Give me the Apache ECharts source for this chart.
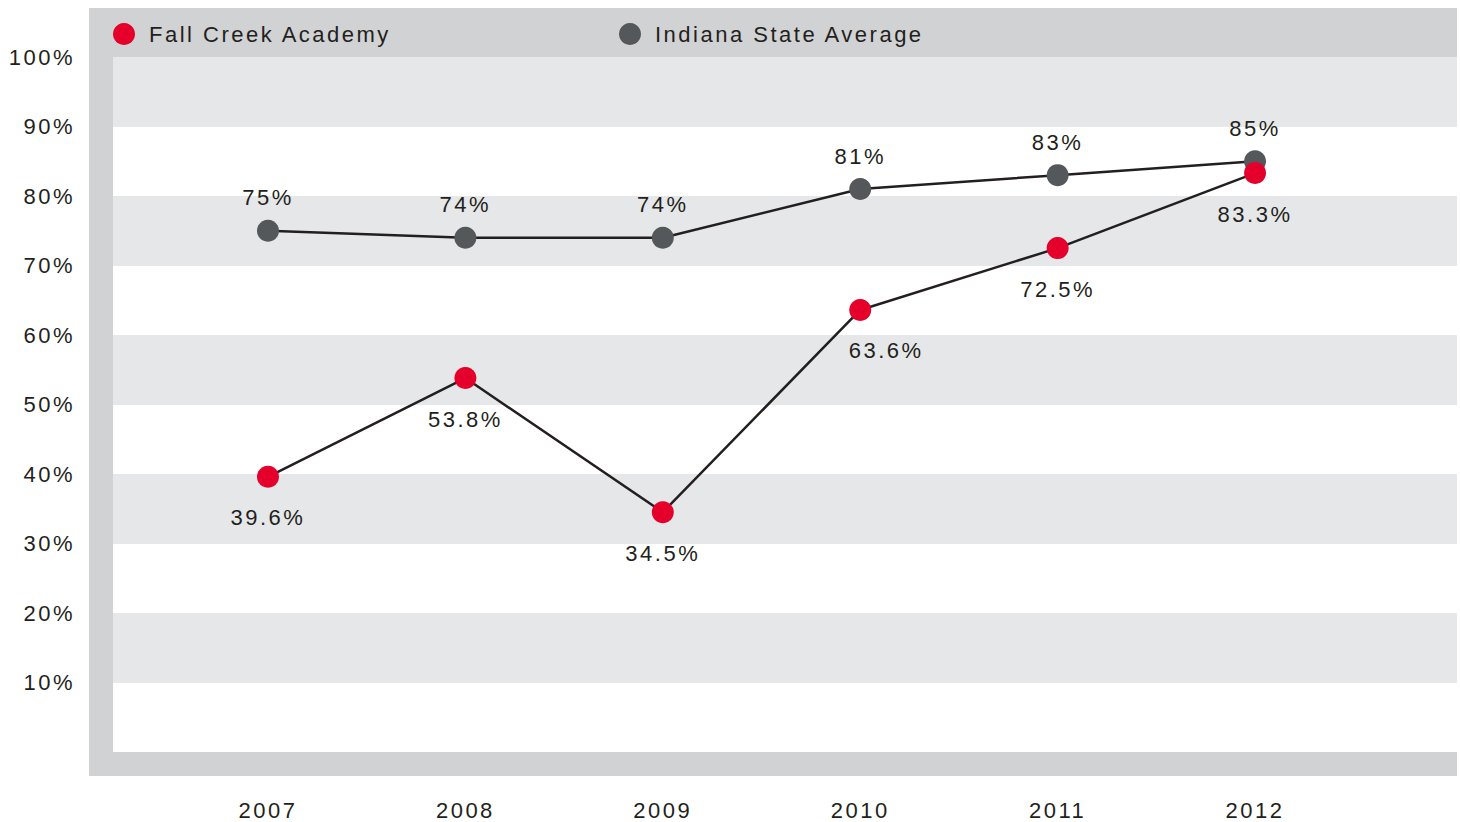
<!DOCTYPE html>
<html>
<head>
<meta charset="utf-8">
<script src="https://cdn.jsdelivr.net/npm/echarts@6/dist/echarts.min.js"></script>
<style>
  html, body { margin: 0; padding: 0; background: #fff; }
  #chart { width: 1460px; height: 822px; letter-spacing: 2.5px; }
</style>
</head>
<body>
<div id="chart"></div>
<script>
// data
const years = [2007, 2008, 2009, 2010, 2011, 2012]
const fallCreek = [39.6, 53.8, 34.5, 63.6, 72.5, 83.3]
const indiana = [75, 74, 74, 81, 83, 85]

const textColor = '#231f20'
const font = 'Liberation Sans, Arial, Helvetica, sans-serif'

let myChart = echarts.init(document.getElementById('chart'), null, { renderer: 'svg' })

let option = {
  animation: false,
  textStyle: { fontFamily: font, color: textColor },
  graphic: [{
    type: 'rect',
    z: -100,
    shape: { x: 89, y: 8, width: 1368, height: 768 },
    style: { fill: '#d1d2d4' }
  }],
  legend: [
    {
      data: ['Fall Creek Academy'],
      left: 113, top: 23, padding: 0,
      icon: 'circle', itemWidth: 22, itemHeight: 22, itemGap: 0,
      textStyle: { fontSize: 22, color: textColor, fontFamily: font, padding: [0, 0, 0, 9] }
    },
    {
      data: ['Indiana State Average'],
      left: 619, top: 23, padding: 0,
      icon: 'circle', itemWidth: 22, itemHeight: 22, itemGap: 0,
      textStyle: { fontSize: 22, color: textColor, fontFamily: font, padding: [0, 0, 0, 9] }
    }
  ],
  grid: { left: 113, right: 3, top: 57, bottom: 70, containLabel: false },
  xAxis: {
    type: 'value',
    min: 2006.215,
    max: 2013.023,
    splitNumber: 7,
    axisLine: { show: false },
    axisTick: { show: false },
    splitLine: { show: false },
    axisLabel: {
      margin: 47,
      fontSize: 22,
      color: textColor,
      fontFamily: font,
      showMinLabel: false,
      showMaxLabel: false,
      formatter: v => years.includes(v) ? String(v) : ''
    }
  },
  yAxis: {
    type: 'value',
    min: 0, max: 100, interval: 10,
    axisLine: { show: false },
    axisTick: { show: false },
    splitLine: { show: false },
    splitArea: { show: true, areaStyle: { color: ['#ffffff', '#e6e7e8'] } },
    axisLabel: {
      margin: 38,
      fontSize: 22,
      color: textColor,
      fontFamily: font,
      formatter: v => v === 0 ? '' : v + '%'
    }
  },
  series: [
    {
      name: 'Indiana State Average',
      type: 'line',
      data: years.map((y, i) => [y, indiana[i]]),
      symbol: 'circle',
      symbolSize: 22,
      itemStyle: { color: '#55585b' },
      lineStyle: { color: textColor, width: 2.5 },
      label: {
        show: true,
        position: 'top',
        distance: 11,
        fontSize: 22,
        color: textColor,
        fontFamily: font,
        formatter: p => p.value[1] + '%'
      },
      z: 2
    },
    {
      name: 'Fall Creek Academy',
      type: 'line',
      data: years.map((y, i) => i === 3
        ? { value: [y, fallCreek[i]], label: { offset: [26, 0] } }
        : [y, fallCreek[i]]),
      symbol: 'circle',
      symbolSize: 22,
      itemStyle: { color: '#e4002b' },
      lineStyle: { color: textColor, width: 2.5 },
      label: {
        show: true,
        position: 'bottom',
        distance: 19,
        fontSize: 22,
        color: textColor,
        fontFamily: font,
        formatter: p => p.value[1].toFixed(1) + '%'
      },
      z: 3
    }
  ]
}

myChart.setOption(option)
</script>
</body>
</html>
